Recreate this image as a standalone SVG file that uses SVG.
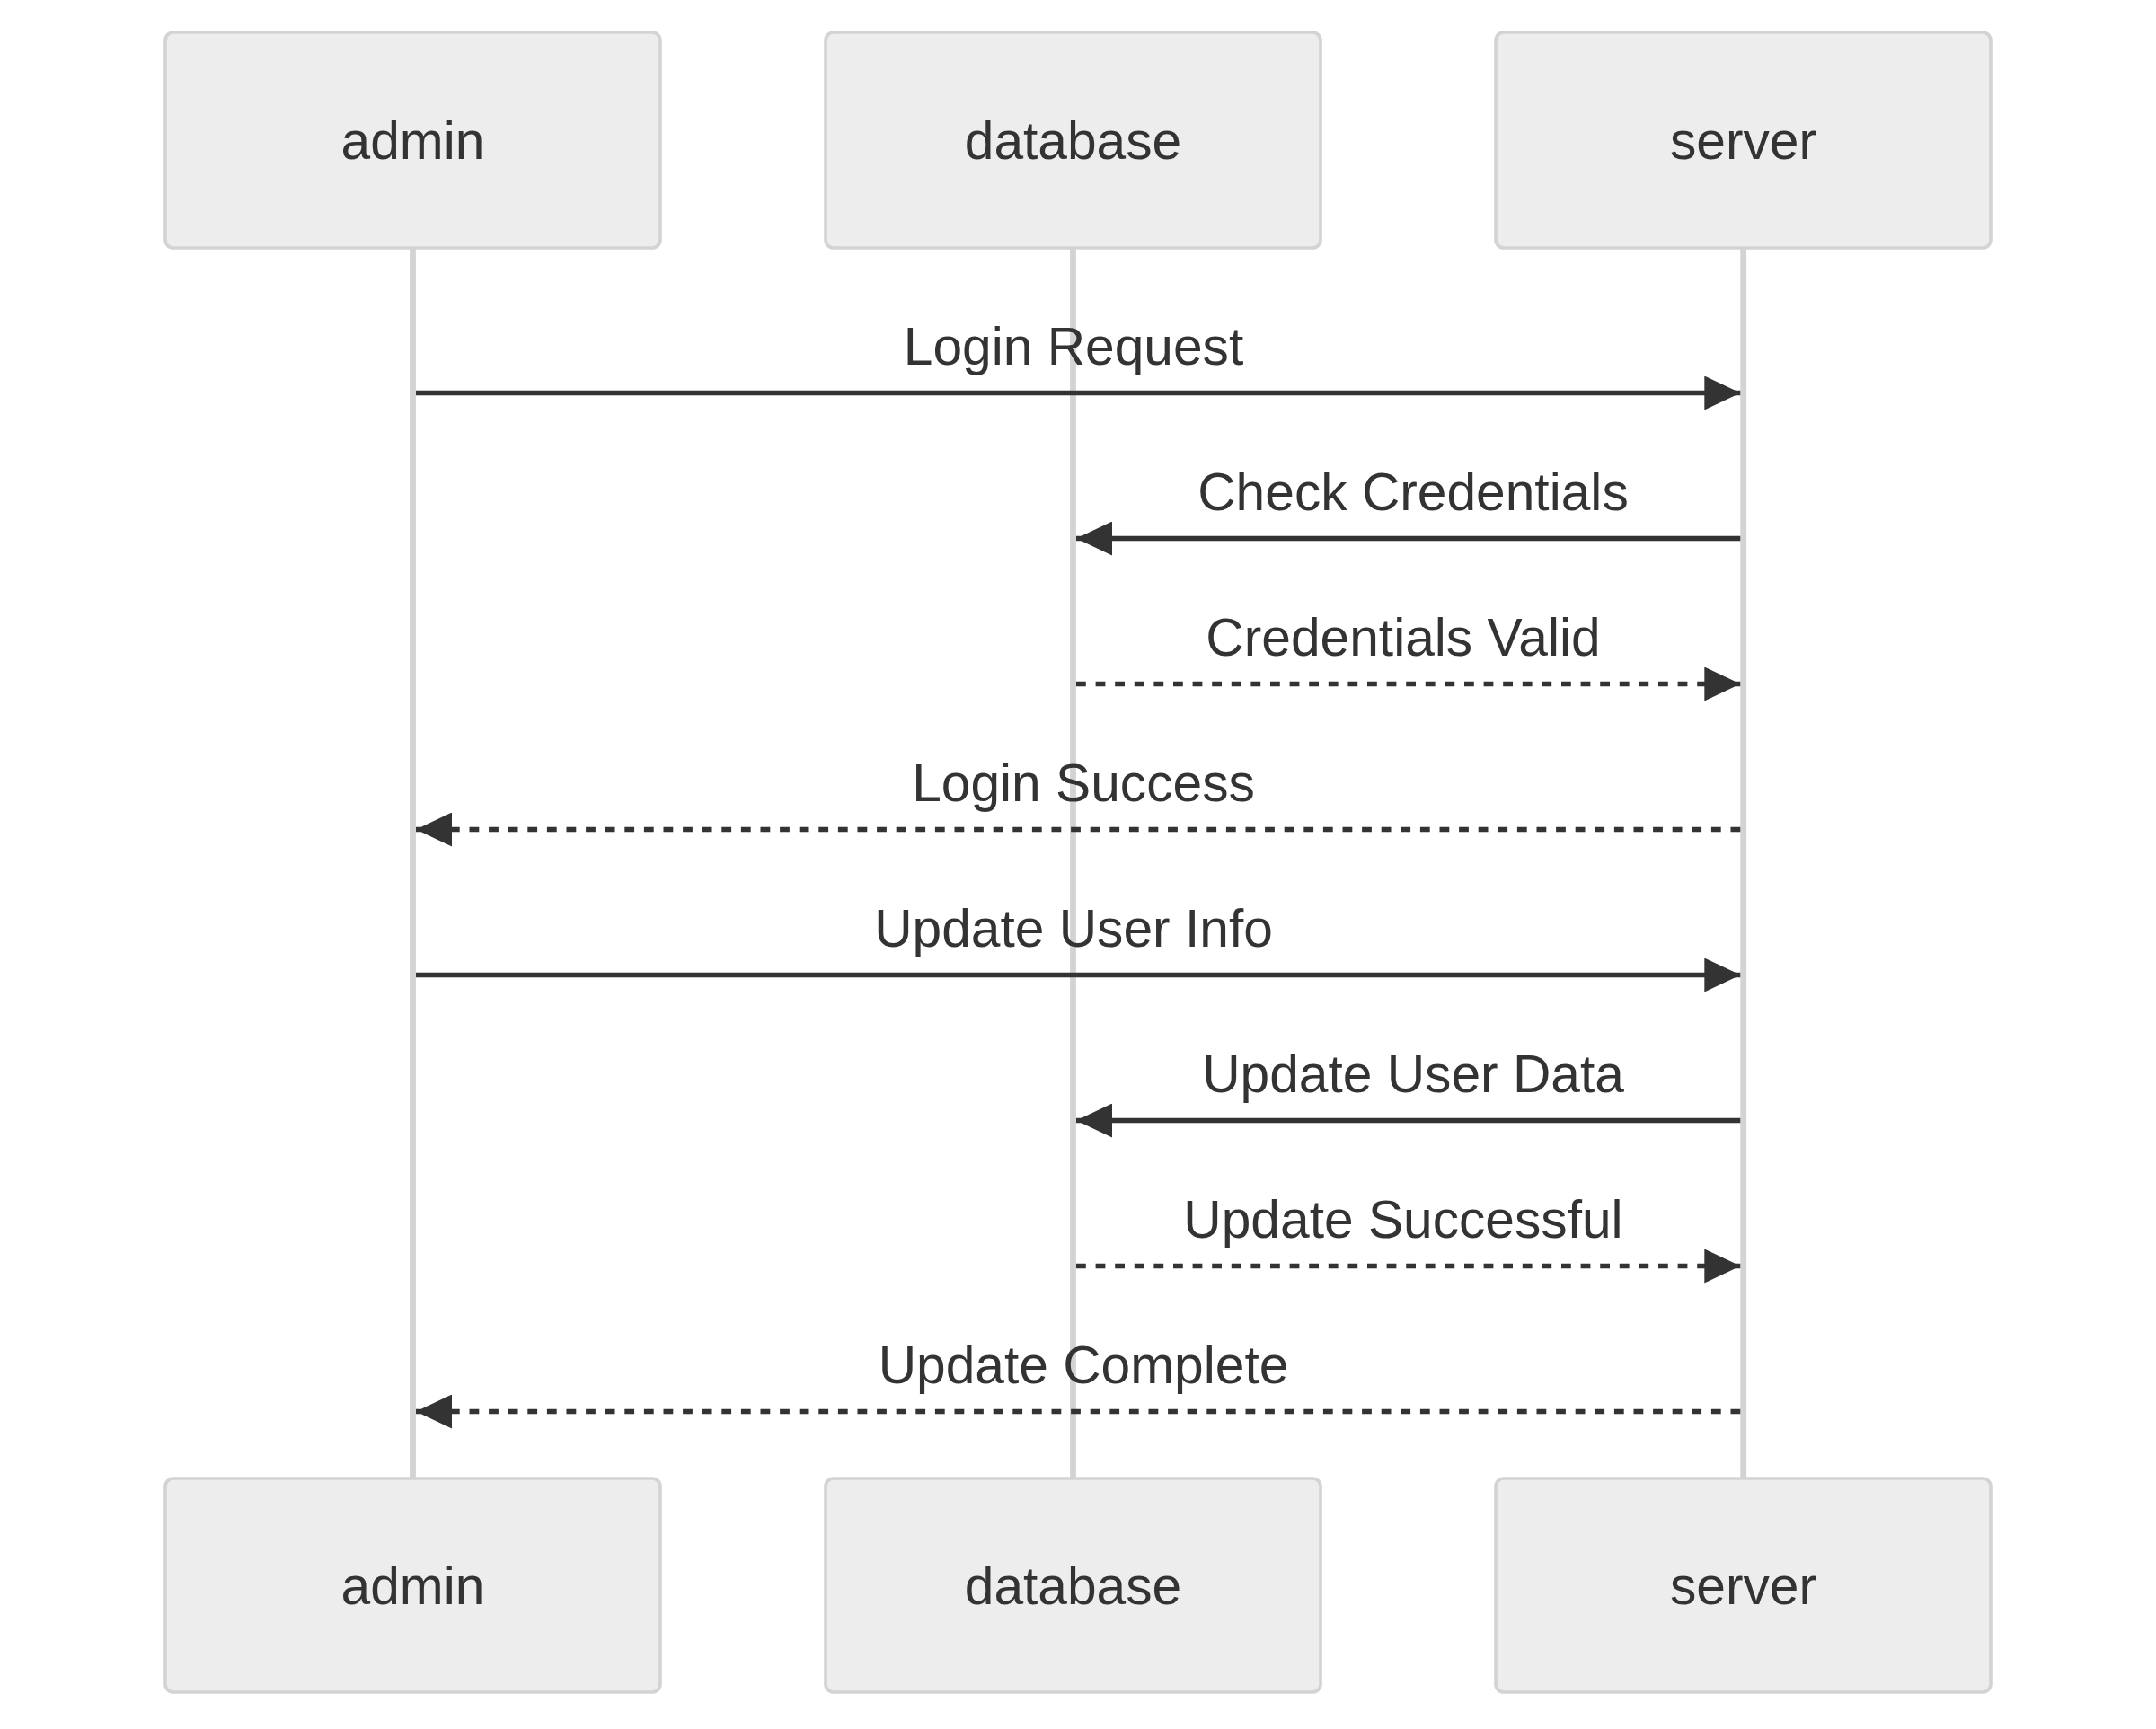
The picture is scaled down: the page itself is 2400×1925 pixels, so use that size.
<svg xmlns="http://www.w3.org/2000/svg" width="2400" height="1925" viewBox="0 0 2400 1925">
<defs>
<style>
.actor{fill:#ededed;stroke:#d3d3d3;stroke-width:3.6}
.atext{font-family:"Liberation Sans",Arial,sans-serif;font-size:58.7px;fill:#333333;text-anchor:middle}
.life{stroke:#d3d3d3;stroke-width:6.8;fill:none}
.msg{stroke:#333333;stroke-width:5.4;fill:none}
.dash{stroke-dasharray:10.8 10.8}
.mtext{font-family:"Liberation Sans",Arial,sans-serif;font-size:58.7px;fill:#333333;text-anchor:middle}
</style>
<marker id="arrow" markerUnits="userSpaceOnUse" markerWidth="40" markerHeight="38" refX="40" refY="19" orient="auto" viewBox="0 0 40 38">
<path d="M0,0 L40,19 L0,38 z" fill="#333333"/>
</marker>
</defs>
<rect width="2400" height="1925" fill="#ffffff"/>
<g id="lifelines">
<line class="life" x1="459.5" y1="276" x2="459.5" y2="1646"/>
<line class="life" x1="1194.5" y1="276" x2="1194.5" y2="1646"/>
<line class="life" x1="1940.7" y1="276" x2="1940.7" y2="1646"/>
</g>
<g id="actor-admin-top"><rect class="actor" x="184" y="36" width="551" height="240" rx="9"/><text class="atext" x="459.5" y="177">admin</text></g>
<g id="actor-database-top"><rect class="actor" x="919" y="36" width="551" height="240" rx="9"/><text class="atext" x="1194.5" y="177">database</text></g>
<g id="actor-server-top"><rect class="actor" x="1665" y="36" width="551" height="240" rx="9"/><text class="atext" x="1940.5" y="177">server</text></g>
<g id="actor-admin-bottom"><rect class="actor" x="184" y="1646" width="551" height="238" rx="9"/><text class="atext" x="459.5" y="1786">admin</text></g>
<g id="actor-database-bottom"><rect class="actor" x="919" y="1646" width="551" height="238" rx="9"/><text class="atext" x="1194.5" y="1786">database</text></g>
<g id="actor-server-bottom"><rect class="actor" x="1665" y="1646" width="551" height="238" rx="9"/><text class="atext" x="1940.5" y="1786">server</text></g>
<g id="connectors">
<line class="msg" x1="463" y1="437.5" x2="1937.3" y2="437.5" marker-end="url(#arrow)"/>
<line class="msg" x1="1937.3" y1="599.5" x2="1198" y2="599.5" marker-end="url(#arrow)"/>
<line class="msg dash" x1="1198" y1="761.5" x2="1937.3" y2="761.5" marker-end="url(#arrow)"/>
<line class="msg dash" x1="1937.3" y1="923.5" x2="463" y2="923.5" marker-end="url(#arrow)"/>
<line class="msg" x1="463" y1="1085.5" x2="1937.3" y2="1085.5" marker-end="url(#arrow)"/>
<line class="msg" x1="1937.3" y1="1247.5" x2="1198" y2="1247.5" marker-end="url(#arrow)"/>
<line class="msg dash" x1="1198" y1="1409.5" x2="1937.3" y2="1409.5" marker-end="url(#arrow)"/>
<line class="msg dash" x1="1937.3" y1="1571.5" x2="463" y2="1571.5" marker-end="url(#arrow)"/>
</g>
<g id="labels">
<text class="mtext" x="1195" y="406">Login Request</text>
<text class="mtext" x="1573" y="568">Check Credentials</text>
<text class="mtext" x="1562" y="730">Credentials Valid</text>
<text class="mtext" x="1206" y="892">Login Success</text>
<text class="mtext" x="1195" y="1054">Update User Info</text>
<text class="mtext" x="1573" y="1216">Update User Data</text>
<text class="mtext" x="1562" y="1378">Update Successful</text>
<text class="mtext" x="1206" y="1540">Update Complete</text>
</g>
</svg>
